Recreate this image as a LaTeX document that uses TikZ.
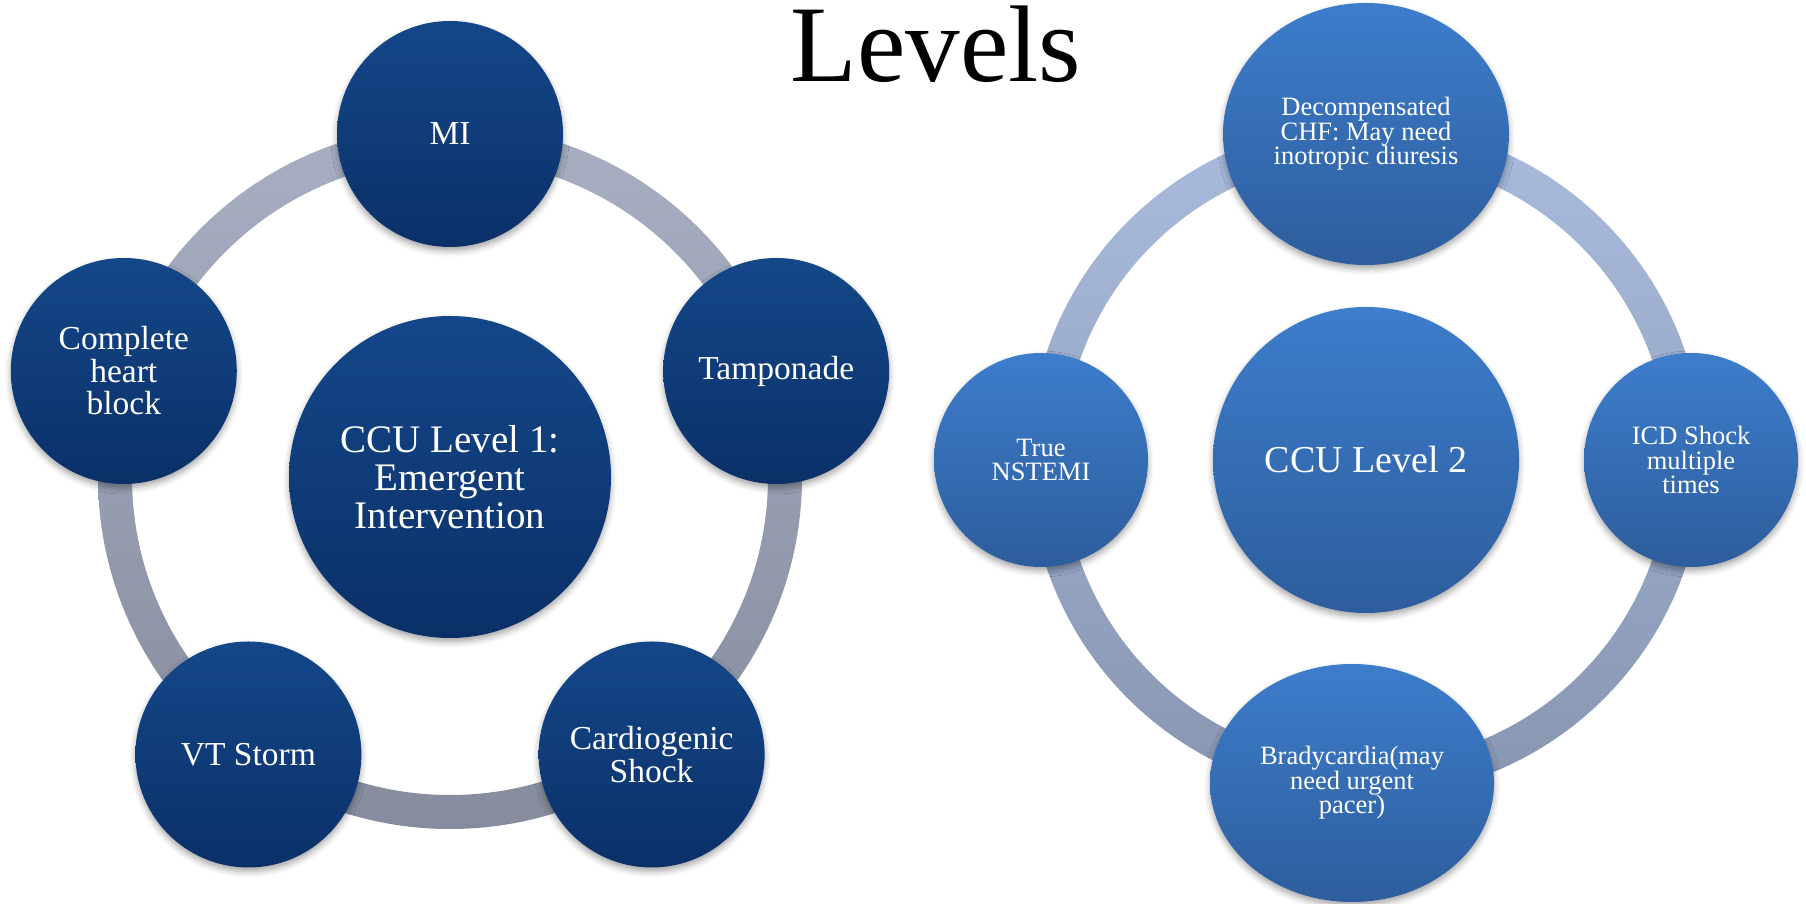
\documentclass[tikz,border=0pt]{standalone}
\usepackage{fontspec}
\setmainfont{Liberation Serif}
\usepackage{xcolor}
\usepackage{tikz}
\usetikzlibrary{shapes.geometric,shadows.blur}
\definecolor{navyTop}{HTML}{144789}
\definecolor{navyBot}{HTML}{0B3068}
\definecolor{blueTop}{HTML}{3D7DCC}
\definecolor{blueBot}{HTML}{2D5D9C}
\definecolor{ringOneTop}{HTML}{A8AFC2}
\definecolor{ringOneBot}{HTML}{868C9E}
\definecolor{ringTwoTop}{HTML}{A9BBDD}
\definecolor{ringTwoBot}{HTML}{8896B0}
\tikzset{
  softshadow/.style={blur shadow={shadow xshift=0pt, shadow yshift=-4pt, shadow blur radius=6pt, shadow opacity=35}},
  levelone/.style={circle, inner sep=0pt, top color=navyTop, bottom color=navyBot, text=white, align=center, softshadow},
  leveltwo/.style={inner sep=0pt, top color=blueTop, bottom color=blueBot, text=white, align=center, softshadow}
}

\begin{document}
\begin{tikzpicture}[x=1pt, y=1pt]
  \useasboundingbox (0, 0) rectangle (1806, 904);
  \node[anchor=base, font=\fontsize{109}{109}\selectfont] (title) at (936, 822) {Levels};

  % level 1 cycle
  \coordinate (one) at (450, 427);
  \shade[top color=ringOneTop, bottom color=ringOneBot, even odd rule] (one) circle[radius=352] (one) circle[radius=318];
  \node[levelone, minimum size=322pt, font=\fontsize{39}{38}\selectfont] (onecenter) at (one) {CCU Level 1:\\Emergent\\Intervention};
  \foreach \ang/\name/\txt in {90/mi/MI, 18/tamp/Tamponade, -54/cardio/{Cardiogenic\\Shock}, -126/vt/VT Storm, 162/chb/{Complete\\heart\\block}}
    \node[levelone, minimum size=226pt, font=\fontsize{33.5}{32.5}\selectfont] (\name) at ([shift={(\ang:343)}]one) {\txt};

  % level 2 cycle
  \coordinate (two) at (1366, 444);
  \shade[top color=ringTwoTop, bottom color=ringTwoBot, even odd rule] (two) circle[radius=337] (two) circle[radius=303];
  \node[leveltwo, circle, minimum size=306pt, font=\fontsize{38}{39}\selectfont] (twocenter) at (two) {CCU Level 2};
  \node[leveltwo, ellipse, minimum width=286pt, minimum height=262pt, font=\fontsize{26.5}{24.5}\selectfont] (chf) at (1366, 770) {Decompensated\\CHF: May need\\inotropic diuresis};
  \node[leveltwo, circle, minimum size=214pt, font=\fontsize{26.5}{24.5}\selectfont] (icd) at (1691, 444) {ICD Shock\\multiple\\times};
  \node[leveltwo, ellipse, minimum width=284pt, minimum height=238pt, font=\fontsize{26.5}{24.5}\selectfont] (brady) at (1352, 121) {Bradycardia(may\\need urgent\\pacer)};
  \node[leveltwo, circle, minimum size=214pt, font=\fontsize{26.5}{24.5}\selectfont] (nstemi) at (1041, 444) {True\\NSTEMI};
\end{tikzpicture}
\end{document}
